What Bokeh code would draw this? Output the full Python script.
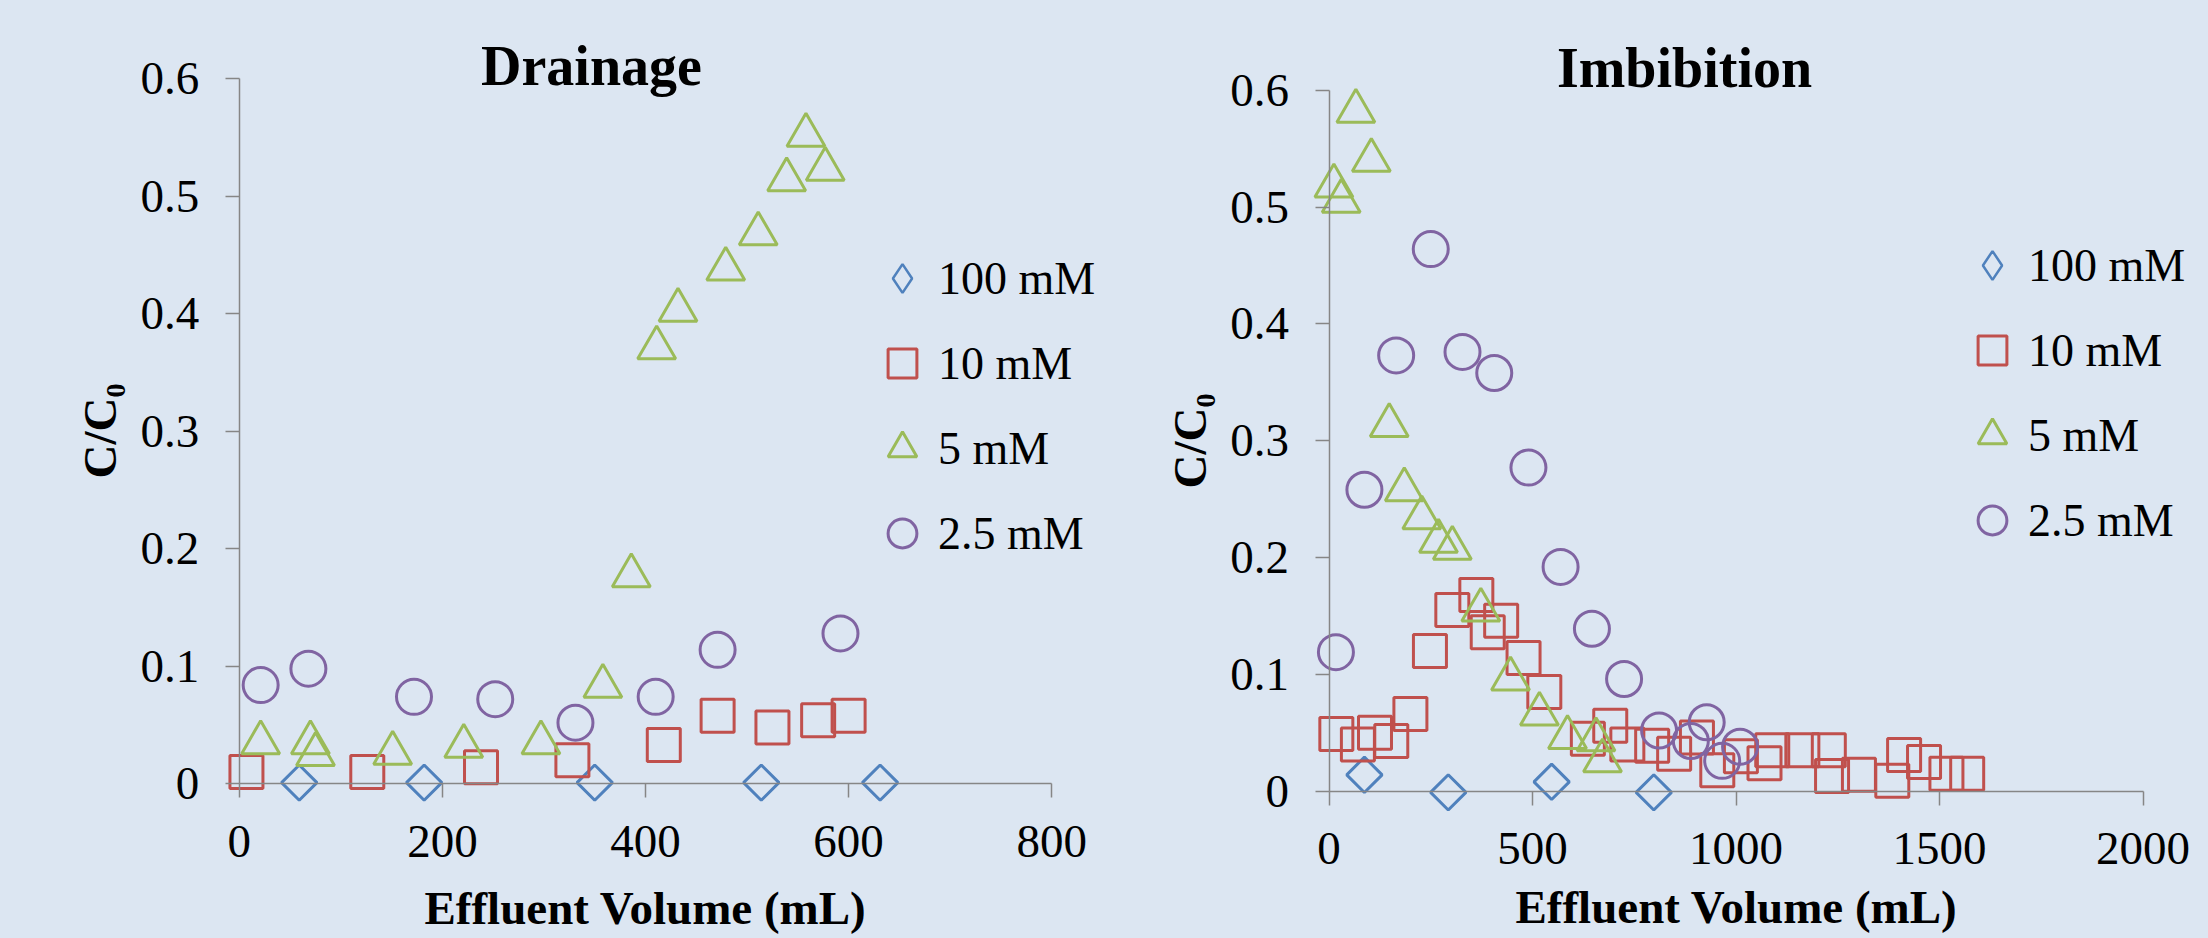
import math
from bokeh.plotting import figure
from bokeh.layouts import row
from bokeh.models import FixedTicker, Legend, LegendItem, Label, Range1d
from bokeh.embed import file_html
from bokeh.resources import INLINE

# ---------------- data ----------------
series_names = ["100 mM", "10 mM", "5 mM", "2.5 mM"]

# Drainage
drain_x_100 = [59, 182, 350, 514, 631]
drain_y_100 = [0.001, 0.001, 0.001, 0.001, 0.001]
drain_x_10 = [7, 126, 238, 328, 418, 471, 525, 570, 600]
drain_y_10 = [0.010, 0.010, 0.014, 0.020, 0.033, 0.058, 0.048, 0.054, 0.058]
drain_x_5 = [21, 70, 75, 151, 221, 297, 358, 386, 411, 432, 479, 511, 539, 558, 577]
drain_y_5 = [0.035, 0.035, 0.025, 0.026, 0.032, 0.035, 0.083, 0.177, 0.371, 0.403, 0.438, 0.468, 0.514, 0.552, 0.523]
drain_x_25 = [21, 68, 172, 252, 331, 410, 471, 592]
drain_y_25 = [0.084, 0.098, 0.074, 0.072, 0.052, 0.074, 0.114, 0.128]

# Imbibition
imb_x_100 = [87, 293, 547, 798]
imb_y_100 = [0.014, -0.001, 0.008, -0.001]
imb_x_10 = [18, 71, 113, 153, 200, 248, 303, 362, 390, 423, 478, 529, 636, 691, 733, 794,
            848, 904, 954, 1012, 1070, 1089, 1163, 1228, 1236, 1302, 1384, 1413, 1462, 1517, 1568]
imb_y_10 = [0.049, 0.040, 0.050, 0.043, 0.066, 0.120, 0.155, 0.168, 0.136, 0.146, 0.114, 0.085,
            0.045, 0.056, 0.040, 0.039, 0.032, 0.046, 0.018, 0.030, 0.024, 0.035, 0.035, 0.035,
            0.013, 0.014, 0.009, 0.031, 0.025, 0.015, 0.015]
imb_x_5 = [12, 30, 66, 104, 148, 185, 228, 269, 303, 373, 446, 517, 586, 656, 672]
imb_y_5 = [0.518, 0.505, 0.582, 0.540, 0.313, 0.258, 0.234, 0.214, 0.208, 0.155, 0.096, 0.066,
           0.046, 0.044, 0.026]
imb_x_25 = [17, 87, 165, 250, 328, 406, 490, 569, 646, 725, 811, 889, 928, 966, 1010]
imb_y_25 = [0.119, 0.258, 0.373, 0.464, 0.376, 0.358, 0.277, 0.192, 0.139, 0.096, 0.052,
            0.043, 0.059, 0.026, 0.038]

y_ticks = [0, 0.1, 0.2, 0.3, 0.4, 0.5, 0.6]
y_tick_labels = ["0", "0.1", "0.2", "0.3", "0.4", "0.5", "0.6"]
drain_x_ticks = [0, 200, 400, 600, 800]
drain_x_tick_labels = ["0", "200", "400", "600", "800"]
imb_x_ticks = [0, 500, 1000, 1500, 2000]
imb_x_tick_labels = ["0", "500", "1000", "1500", "2000"]

# ---------------- style ----------------
BG = "#DCE6F2"
AXIS = "#868686"
FONT = "Liberation Serif"
COLORS = ["#4F81BD", "#C0504D", "#9BBB59", "#8064A2"]
MARKERS = [("square", math.pi / 4, 25), ("square", 0, 33), ("triangle", 0, 38), ("circle", 0, 35)]
LEGEND_MARKERS = ["diamond", "square", "triangle", "circle"]
NAN = float("nan")


def make_panel(title, xs, ys, x_ticks, x_tick_labels, x_range, y_range, x_max,
               legend_loc, title_xy, xlabel_standoff):
    p = figure(width=1104, height=938, x_range=Range1d(*x_range), y_range=Range1d(*y_range),
               output_backend="svg", toolbar_location=None,
               min_border_left=0, min_border_right=0, min_border_top=0, min_border_bottom=0,
               background_fill_color=BG, border_fill_color=BG, outline_line_color=None)
    p.xgrid.visible = False
    p.ygrid.visible = False

    items = []
    for name, x, y, color, (mk, ang, sz), lmk in zip(series_names, xs, ys, COLORS, MARKERS,
                                                     LEGEND_MARKERS):
        r = p.scatter(x, y, marker=mk, angle=ang, size=sz, fill_alpha=0,
                      line_color=color, line_width=3)
        if lmk == mk and ang == 0:
            items.append(LegendItem(label=name, renderers=[r]))
        else:
            # legend swatch only (the legend ignores marker rotation); no visible point
            lr = p.scatter([NAN], [NAN], marker=lmk, size=sz, fill_alpha=0,
                           line_color=color, line_width=2.5)
            items.append(LegendItem(label=name, renderers=[lr]))

    legend = Legend(items=items, location=legend_loc, orientation="vertical",
                    glyph_width=72, glyph_height=72, spacing=13, padding=0, margin=0,
                    label_standoff=0, label_text_font=FONT, label_text_font_size="46px",
                    label_text_color="black", border_line_color=None,
                    background_fill_alpha=0)
    p.add_layout(legend)

    xa = p.xaxis[0]
    ya = p.yaxis[0]
    xa.ticker = FixedTicker(ticks=x_ticks)
    xa.major_label_overrides = dict(zip(x_ticks, x_tick_labels))
    ya.ticker = FixedTicker(ticks=y_ticks)
    ya.major_label_overrides = dict(zip(y_ticks, y_tick_labels))
    xa.bounds = (0, x_max)
    ya.bounds = (0, 0.6)
    xa.axis_label = "Effluent Volume (mL)"
    ya.axis_label = "C/C\u2080"
    for ax in (xa, ya):
        ax.fixed_location = 0
        ax.axis_line_color = AXIS
        ax.axis_line_width = 1.5
        ax.major_tick_line_color = AXIS
        ax.major_tick_line_width = 1.5
        ax.major_tick_out = 14
        ax.major_tick_in = 0
        ax.minor_tick_out = 0
        ax.minor_tick_in = 0
        ax.major_label_text_font = FONT
        ax.major_label_text_font_size = "47px"
        ax.major_label_text_color = "black"
        ax.axis_label_text_font = FONT
        ax.axis_label_text_font_size = "47px"
        ax.axis_label_text_font_style = "bold"
        ax.axis_label_text_color = "black"
    xa.major_label_standoff = 28
    xa.axis_label_standoff = xlabel_standoff
    ya.major_label_standoff = 26
    ya.axis_label_standoff = 12

    p.add_layout(Label(x=title_xy[0], y=title_xy[1], x_units="screen", y_units="screen",
                       text=title, text_font=FONT, text_font_size="56px",
                       text_font_style="bold", text_color="black",
                       text_align="center", text_baseline="alphabetic"))
    return p


p1 = make_panel("Drainage",
                [drain_x_100, drain_x_10, drain_x_5, drain_x_25],
                [drain_y_100, drain_y_10, drain_y_5, drain_y_25],
                drain_x_ticks, drain_x_tick_labels,
                (-235.2, 852.0), (-0.13166, 0.6666), 800,
                (866, 369), (591, 873), 22)

p2 = make_panel("Imbibition",
                [imb_x_100, imb_x_10, imb_x_5, imb_x_25],
                [imb_y_100, imb_y_10, imb_y_5, imb_y_25],
                imb_x_ticks, imb_x_tick_labels,
                (-551.6, 2160.9), (-0.12608, 0.6768), 2000,
                (852, 382), (580, 871), 13)

layout = row(p1, p2, spacing=0, styles={"background-color": BG})
open("out.html", "w").write(file_html(layout, INLINE))
